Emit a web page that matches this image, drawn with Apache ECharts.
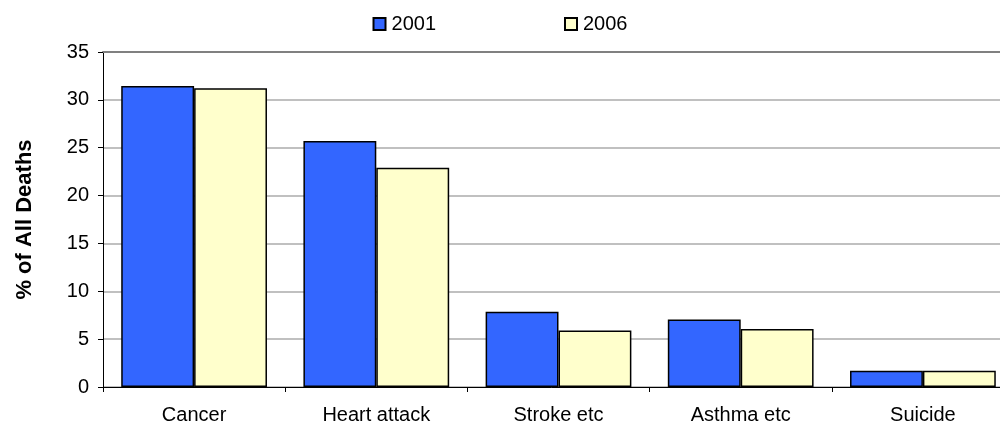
<!DOCTYPE html>
<html>
<head>
<meta charset="utf-8">
<script src="https://cdn.jsdelivr.net/npm/echarts@6/dist/echarts.min.js"></script>
<style>
  html, body { margin: 0; padding: 0; background: #fff; }
  #chart { width: 1000px; height: 427px; }
</style>
</head>
<body>
<div id="chart"></div>
<script>
var categories = ['Cancer', 'Heart attack', 'Stroke etc', 'Asthma etc', 'Suicide'];
var seriesNames = ['2001', '2006'];
var values2001 = [31.45, 25.7, 7.85, 7.05, 1.7];
var values2006 = [31.2, 22.9, 5.9, 6.05, 1.7];
var yTicks = { min: 0, max: 35, interval: 5 };

var font = 'Liberation Sans, Arial, sans-serif';

var option = {
    animation: false,
    backgroundColor: '#ffffff',
    legend: {
        top: 9,
        left: 'center',
        itemWidth: 12,
        itemHeight: 12,
        itemGap: 128,
        icon: 'rect',
        textStyle: { fontFamily: font, fontSize: 20, color: '#000', padding: [0, 0, 0, 1] },
        data: seriesNames
    },
    grid: { left: 103, top: 52, width: 911, bottom: 40, outerBoundsMode: 'none' },
    xAxis: [{
        type: 'category',
        data: categories,
        axisLine: { lineStyle: { color: '#000', width: 1 } },
        axisTick: { show: true, length: 5, lineStyle: { color: '#000' } },
        axisLabel: { fontFamily: font, fontSize: 20, color: '#000', margin: 18 }
    }, {
        type: 'category',
        data: categories,
        position: 'top',
        axisLine: { lineStyle: { color: '#808080', width: 2 } },
        axisTick: { show: false },
        axisLabel: { show: false }
    }],
    yAxis: {
        type: 'value',
        min: yTicks.min,
        max: yTicks.max,
        interval: yTicks.interval,
        name: '% of All Deaths',
        nameLocation: 'middle',
        nameGap: 67,
        nameTextStyle: { fontFamily: font, fontSize: 22, fontWeight: 'bold', color: '#000' },
        axisLine: { show: true, lineStyle: { color: '#000', width: 1 } },
        axisTick: { show: true, length: 5, lineStyle: { color: '#000' } },
        axisLabel: { fontFamily: font, fontSize: 20, color: '#000', margin: 14 },
        splitLine: { lineStyle: { color: '#c0c0c0', width: 2 } }
    },
    series: [{
        name: seriesNames[0],
        type: 'bar',
        data: values2001,
        barGap: '0%',
        barCategoryGap: '20%',
        itemStyle: { color: '#3366ff', borderColor: '#000', borderWidth: 1.5 }
    }, {
        name: seriesNames[1],
        type: 'bar',
        data: values2006,
        barGap: '0%',
        barCategoryGap: '20%',
        itemStyle: { color: '#ffffcc', borderColor: '#000', borderWidth: 1.5 }
    }]
};

var myChart = echarts.init(document.getElementById('chart'));
myChart.setOption(option);
</script>
</body>
</html>
